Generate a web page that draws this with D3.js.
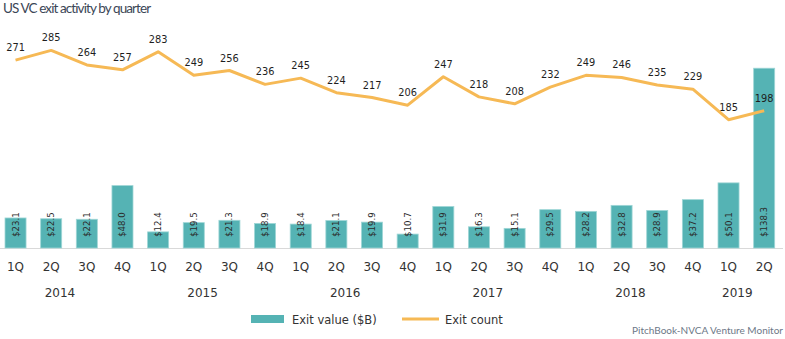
<!DOCTYPE html>
<html>
<head>
<meta charset="utf-8">
<script src="https://cdn.jsdelivr.net/npm/d3@7"></script>
<style>
	body { margin: 0; background: #fff; }
	svg { display: block; }
</style>
</head>
<body>
<svg id="chart" width="785" height="339"></svg>
<script>
// quarterly exit activity, 1Q 2014 .. 2Q 2019
var quarters = ["1Q","2Q","3Q","4Q","1Q","2Q","3Q","4Q","1Q","2Q","3Q","4Q",
	"1Q","2Q","3Q","4Q","1Q","2Q","3Q","4Q","1Q","2Q"];
var years = ["2014","2015","2016","2017","2018","2019"];
var exitValue = [23.1, 22.5, 22.1, 48.0, 12.4, 19.5, 21.3, 18.9, 18.4, 21.1, 19.9, 10.7,
	31.9, 16.3, 15.1, 29.5, 28.2, 32.8, 28.9, 37.2, 50.1, 138.3];
var exitCount = [271, 285, 264, 257, 283, 249, 256, 236, 245, 224, 217, 206,
	247, 218, 208, 232, 249, 246, 235, 229, 185, 198];

var TEAL = "#55b3b4";
var ORANGE = "#f6b955";
var BASE_Y = 248;
var TOP_Y = 40;

var svg = d3.select("#chart");
var idx = d3.range(quarters.length);

var x = d3.scaleBand()
	.domain(idx)
	.range([-2.3, 782])
	.paddingInner(0.41)
	.paddingOuter(0.205);

var yBar = d3.scaleLinear().domain([0, 160]).range([BASE_Y, TOP_Y]);
var yLine = d3.scaleLinear().domain([0, 300]).range([BASE_Y, TOP_Y]);

function cx(i) { return x(i) + x.bandwidth() / 2; }

// title
svg.append("text")
	.attr("x", 3)
	.attr("y", 13)
	.attr("font-family", "Lato")
	.attr("font-size", 13.5)
	.attr("letter-spacing", -0.9)
	.attr("fill", "#3b4656")
	.text("US VC exit activity by quarter");

// baseline
svg.append("line")
	.attr("x1", 0).attr("x2", 783)
	.attr("y1", BASE_Y + 0.5).attr("y2", BASE_Y + 0.5)
	.attr("stroke", "#d9d9d9")
	.attr("stroke-width", 1);

// bars
svg.append("g").selectAll("rect")
	.data(idx)
	.enter().append("rect")
		.attr("x", function(i) { return x(i); })
		.attr("y", function(i) { return yBar(exitValue[i]); })
		.attr("width", x.bandwidth())
		.attr("height", function(i) { return BASE_Y - yBar(exitValue[i]); })
		.attr("fill", TEAL)
		.attr("stroke", "#9fd6d6")
		.attr("stroke-width", 0.8);

// bar value labels, rotated, reading upward
svg.append("g").selectAll("text")
	.data(idx)
	.enter().append("text")
		.attr("transform", function(i) { return "translate(" + (cx(i) + 3) + "," + (BASE_Y - 11) + ") rotate(-90)"; })
		.attr("font-family", "DejaVu Sans")
		.attr("font-size", 8.6)
		.attr("fill", "#2b2b2b")
		.text(function(i) { return "$" + exitValue[i].toFixed(1); });

// count line
var line = d3.line()
	.x(function(i) { return cx(i); })
	.y(function(i) { return yLine(exitCount[i]); });

svg.append("path")
	.datum(idx)
	.attr("d", line)
	.attr("fill", "none")
	.attr("stroke", ORANGE)
	.attr("stroke-width", 3)
	.attr("stroke-linejoin", "round");

svg.append("g").selectAll("text")
	.data(idx)
	.enter().append("text")
		.attr("x", function(i) { return cx(i); })
		.attr("y", function(i) { return yLine(exitCount[i]) - 9; })
		.attr("text-anchor", "middle")
		.attr("font-family", "DejaVu Sans")
		.attr("font-size", 9.8)
		.attr("fill", "#1e1e1e")
		.text(function(i) { return exitCount[i]; });

// quarter axis
svg.append("g").selectAll("text")
	.data(idx)
	.enter().append("text")
		.attr("x", function(i) { return cx(i); })
		.attr("y", 271)
		.attr("text-anchor", "middle")
		.attr("font-family", "DejaVu Sans")
		.attr("font-size", 12)
		.attr("fill", "#333")
		.text(function(i) { return quarters[i]; });

// year labels under each group of quarters
svg.append("g").selectAll("text")
	.data(years)
	.enter().append("text")
		.attr("x", function(d, j) {
			var first = j * 4;
			var last = Math.min(first + 3, quarters.length - 1);
			return (cx(first) + cx(last)) / 2 - 9;
		})
		.attr("y", 297)
		.attr("text-anchor", "middle")
		.attr("font-family", "DejaVu Sans")
		.attr("font-size", 12)
		.attr("fill", "#333")
		.text(function(d) { return d; });

// legend
var legend = svg.append("g").attr("font-family", "DejaVu Sans").attr("font-size", 11.5).attr("fill", "#333");
legend.append("rect")
	.attr("x", 251).attr("y", 315)
	.attr("width", 33).attr("height", 8)
	.attr("fill", TEAL);
legend.append("text").attr("x", 292).attr("y", 323.5).text("Exit value ($B)");
legend.append("line")
	.attr("x1", 402).attr("x2", 439)
	.attr("y1", 319).attr("y2", 319)
	.attr("stroke", ORANGE)
	.attr("stroke-width", 3);
legend.append("text").attr("x", 445).attr("y", 323.5).text("Exit count");

// source
svg.append("text")
	.attr("x", 783)
	.attr("y", 334)
	.attr("text-anchor", "end")
	.attr("font-family", "Lato")
	.attr("font-size", 10)
	.attr("fill", "#6d7887")
	.text("PitchBook-NVCA Venture Monitor");
</script>
</body>
</html>
